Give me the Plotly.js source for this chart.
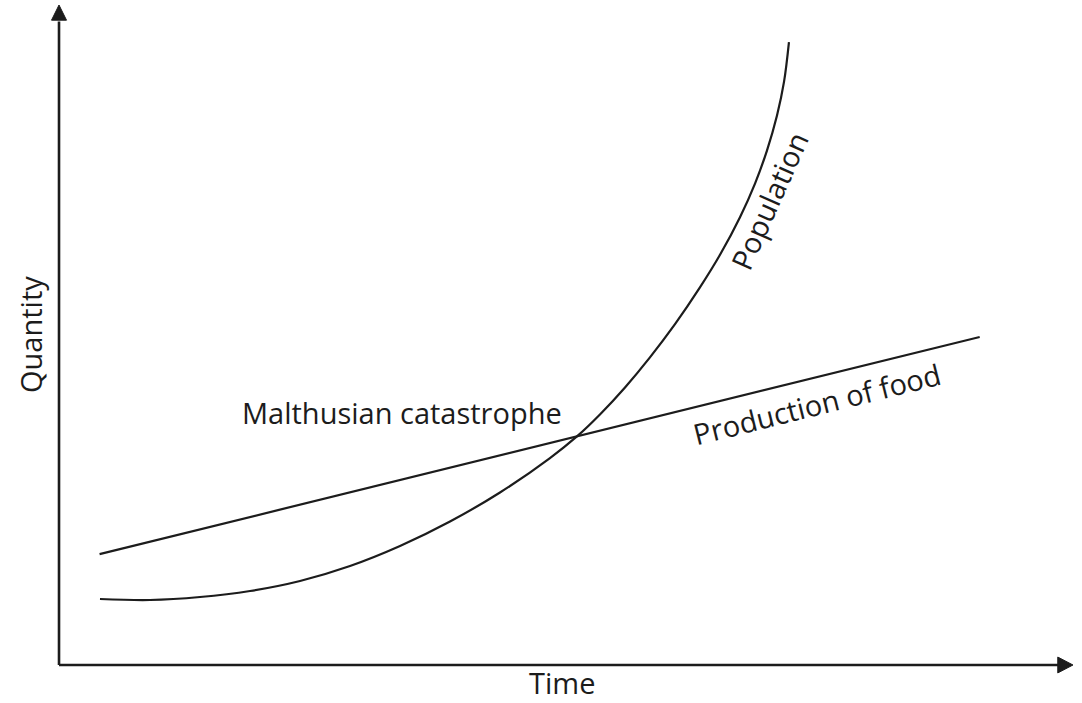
<!DOCTYPE html>
<html>
<head>
<meta charset="utf-8">
<script src="https://cdn.plot.ly/plotly-3.0.1.min.js"></script>
<style>html,body{margin:0;padding:0;background:#fff;}#chart{width:1082px;height:703px;}</style>
</head>
<body>
<div id="chart"></div>
<script>
// Abstract units: time 0-100, quantity 0-100
const popTime = [4.04, 8.97, 13.91, 18.84, 23.77, 28.70, 33.63, 38.56, 43.49, 48.42, 51.08, 53.35, 55.82, 58.28, 60.75, 63.21, 65.19, 67.16, 68.64, 69.82, 70.81, 71.50, 71.99];
const popQty  = [10.00, 9.85, 10.30, 11.21, 12.73, 15.00, 18.03, 21.74, 26.14, 31.36, 34.64, 37.97, 42.06, 46.61, 51.64, 57.21, 62.15, 67.85, 72.95, 77.95, 83.26, 88.35, 94.39];
const foodTime = [4.0, 90.8];
const foodQty  = [16.8, 49.7];
const labels = {
  population: "Population",
  food: "Production of food",
  catastrophe: "Malthusian catastrophe",
  xTitle: "Time",
  yTitle: "Quantity"
};

const ink = '#1c1c1c';
const font = {family: '"Open Sans", Lato, sans-serif', size: 29, color: ink};

const traces = [
  {x: popTime, y: popQty, mode: 'lines', line: {color: ink, width: 2.2, shape: 'spline', smoothing: 1}, hoverinfo: 'skip'},
  {x: foodTime, y: foodQty, mode: 'lines', line: {color: ink, width: 2.2}, hoverinfo: 'skip'}
];

const layout = {
  width: 1082, height: 703,
  margin: {l: 0, r: 0, t: 0, b: 0},
  paper_bgcolor: '#ffffff', plot_bgcolor: '#ffffff',
  showlegend: false,
  xaxis: {range: [-5.82, 100.89], visible: false, fixedrange: true},
  yaxis: {range: [-5.76, 100.76], visible: false, fixedrange: true},
  shapes: [
    {type: 'line', x0: 0, y0: 0, x1: 98.6, y1: 0, line: {color: ink, width: 2.6}},
    {type: 'line', x0: 0, y0: 0, x1: 0, y1: 97.5, line: {color: ink, width: 2.6}},
    {type: 'path', path: 'M 100,0 L 98.5,1.2 L 98.5,-1.2 Z', fillcolor: ink, line: {color: ink, width: 1}},
    {type: 'path', path: 'M 0,100 L -0.74,97.7 L 0.74,97.7 Z', fillcolor: ink, line: {color: ink, width: 1}}
  ],
  annotations: [
    {x: 33.8, y: 38.3, text: labels.catastrophe, showarrow: false, font: font},
    {x: 74.8, y: 39.6, text: labels.food, showarrow: false, font: font, textangle: -14},
    {x: 70.0, y: 70.45, text: labels.population, showarrow: false, font: font, textangle: -66},
    {x: 49.6, y: -2.7, text: labels.xTitle, showarrow: false, font: font},
    {x: -2.86, y: 50.0, text: labels.yTitle, showarrow: false, font: font, textangle: -90}
  ]
};

Plotly.newPlot('chart', traces, layout, {displayModeBar: false, staticPlot: true});
</script>
</body>
</html>
